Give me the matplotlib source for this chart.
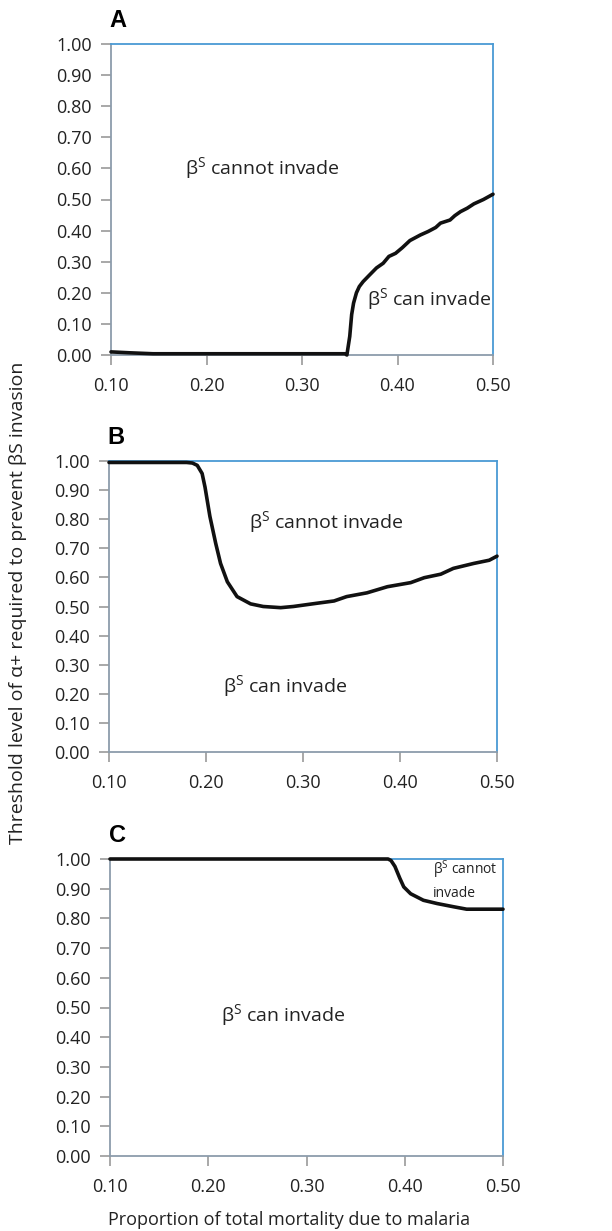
import numpy as np
import matplotlib.pyplot as plt

plt.rcParams['font.family'] = ['Open Sans', 'DejaVu Sans']

# Panel A: threshold curve
xa = [0.100, 0.120, 0.144, 0.200, 0.300, 0.340, 0.345, 0.347, 0.350, 0.352, 0.354,
      0.357, 0.360, 0.364, 0.370, 0.378, 0.385, 0.391, 0.398, 0.405, 0.413, 0.424,
      0.432, 0.440, 0.445, 0.455, 0.460, 0.466, 0.473, 0.480, 0.490, 0.500]
ya = [0.010, 0.007, 0.004, 0.004, 0.004, 0.004, 0.004, 0.000, 0.060, 0.130, 0.167,
      0.200, 0.220, 0.236, 0.255, 0.280, 0.295, 0.317, 0.327, 0.345, 0.368, 0.386,
      0.397, 0.410, 0.424, 0.434, 0.448, 0.461, 0.472, 0.486, 0.500, 0.517]

# Panel B
xb = [0.100, 0.150, 0.180, 0.186, 0.191, 0.196, 0.199, 0.204, 0.210, 0.215, 0.222,
      0.232, 0.246, 0.259, 0.277, 0.290, 0.314, 0.332, 0.345, 0.366, 0.387, 0.411,
      0.425, 0.442, 0.455, 0.476, 0.492, 0.500]
yb = [0.995, 0.995, 0.995, 0.993, 0.985, 0.957, 0.910, 0.810, 0.717, 0.648, 0.585,
      0.534, 0.509, 0.500, 0.496, 0.500, 0.511, 0.519, 0.534, 0.547, 0.568, 0.582,
      0.599, 0.611, 0.631, 0.648, 0.659, 0.673]

# Panel C
xc = [0.100, 0.200, 0.300, 0.383, 0.386, 0.390, 0.395, 0.399, 0.406, 0.419, 0.433,
      0.450, 0.463, 0.500]
yc = [1.000, 1.000, 1.000, 1.000, 0.995, 0.975, 0.935, 0.906, 0.883, 0.861, 0.850,
      0.839, 0.831, 0.831]

xticks = [0.10, 0.20, 0.30, 0.40, 0.50]
yticks = np.arange(0, 1.01, 0.1)

fig = plt.figure(figsize=(6.12, 12.31), dpi=100)
W, H = 612, 1231
# axes boxes in pixels: left, top, right, bottom
boxes = [(111, 44, 493, 355), (109, 461, 497, 752), (110, 859, 503, 1156)]
data = [(xa, ya), (xb, yb), (xc, yc)]
letters = ['A', 'B', 'C']

axes = []
for (l, t, r, b), (xs, ys), letter in zip(boxes, data, letters):
    ax = fig.add_axes([l / W, 1 - b / H, (r - l) / W, (b - t) / H])
    ax.plot(xs, ys, color='#111111', lw=2.6, solid_capstyle='round', clip_on=False, zorder=5)
    ax.set_xlim(0.10, 0.50)
    ax.set_ylim(0, 1.0)
    ax.set_xticks(xticks)
    ax.set_xticklabels([f'{v:.2f}' for v in xticks])
    ax.set_yticks(yticks)
    ax.set_yticklabels([f'{v:.2f}' for v in yticks])
    for s in ['top', 'right']:
        ax.spines[s].set_color('#4a9ad4')
        ax.spines[s].set_linewidth(1.3)
    for s in ['left', 'bottom']:
        ax.spines[s].set_color('#8c9cab')
        ax.spines[s].set_linewidth(1.3)
    ax.tick_params(direction='out', length=7, width=1.2, color='#9a9a9a',
                   labelsize=13, labelcolor='#222222', pad=7)
    ax.tick_params(axis='x', pad=9)
    ax.text(0.018, 1.04, letter, transform=ax.transAxes, fontsize=17,
            fontweight='bold', family='Liberation Sans', ha='center', va='bottom')
    axes.append(ax)

ann = dict(color='#222222', fontsize=14, va='center', ha='left')
axes[0].text(0.178, 0.60, r'$\mathregular{\beta^S}$ cannot invade', **ann)
axes[0].text(0.368, 0.18, r'$\mathregular{\beta^S}$ can invade', **ann)
axes[1].text(0.244, 0.79, r'$\mathregular{\beta^S}$ cannot invade', **ann)
axes[1].text(0.2175, 0.225, r'$\mathregular{\beta^S}$ can invade', **ann)
axes[2].text(0.429, 0.93, r'$\mathregular{\beta^S}$ cannot' + '\ninvade', color='#222222',
             fontsize=10, va='center', ha='left', linespacing=1.45)
axes[2].text(0.213, 0.474, r'$\mathregular{\beta^S}$ can invade', **ann)

fig.text(289 / W, 1 - 1220 / H, 'Proportion of total mortality due to malaria',
         ha='center', va='center', fontsize=13, color='#222222')
fig.text(18 / W, 1 - 603 / H, 'Threshold level of α+ required to prevent βS invasion',
         ha='center', va='center', rotation=90, fontsize=14, color='#222222')

fig.savefig('out.png', dpi=100)
